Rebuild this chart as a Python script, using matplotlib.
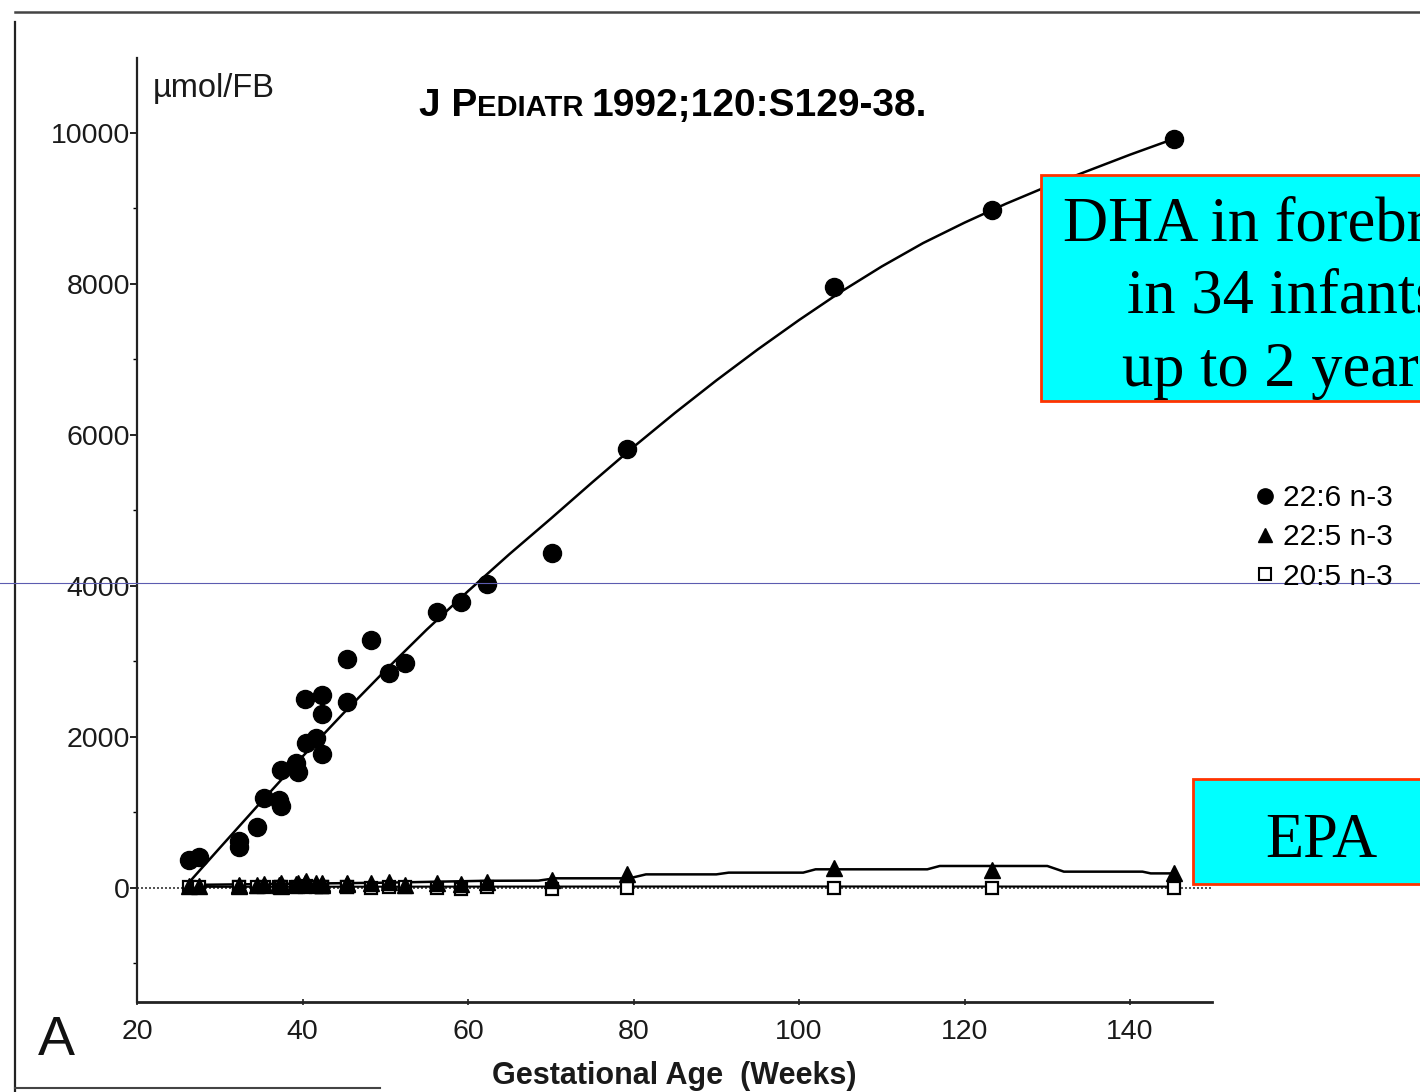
import matplotlib
matplotlib.use("Agg")
import matplotlib.pyplot as plt
from matplotlib.lines import Line2D
from matplotlib.patches import Rectangle
from matplotlib.offsetbox import TextArea, HPacker, AnchoredOffsetbox

plt.rcParams["font.family"] = ["Liberation Sans", "DejaVu Sans"]

# gestational age (weeks) of each infant
age = [26.3, 27.5, 32.3, 32.3, 34.5, 35.4, 37.2, 37.4, 37.4, 39.2, 39.4, 40.4,
       41.6, 42.3, 40.3, 42.4, 42.4, 45.4, 45.4, 48.3, 50.4, 52.4, 56.3, 59.2,
       62.3, 70.2, 79.2, 104.2, 123.3, 145.3]
# 22:6 n-3 (DHA), umol per forebrain
dha = [370, 410, 620, 540, 810, 1190, 1170, 1560, 1080, 1650, 1540, 1920,
       1980, 1780, 2500, 2560, 2310, 2460, 3030, 3290, 2850, 2980, 3660, 3790,
       4030, 4430, 5810, 7960, 8980, 9920]
# 22:5 n-3
dpa = [30, 30, 40, 30, 40, 50, 40, 60, 30, 50, 60, 90,
       70, 50, 60, 60, 40, 70, 50, 60, 80, 40, 70, 50,
       80, 100, 190, 270, 240, 200]
# 20:5 n-3 (EPA)
epa = [10, 10, 15, 10, 10, 15, 10, 15, 10, 15, 10, 20,
       15, 10, 15, 10, 15, 10, 15, 5, 10, 15, 5, -20,
       10, -15, 0, 5, 0, 5]

# fitted curve for 22:6 n-3
dha_fit_x = [26.5, 30, 35, 40, 45, 50, 55, 60, 65, 70, 75, 80, 85, 90, 95, 100,
             105, 110, 115, 120, 125, 130, 135, 140, 145.3]
dha_fit_y = [100, 530, 1140, 1740, 2320, 2880, 3420, 3930, 4420, 4890, 5370, 5840,
             6290, 6720, 7130, 7520, 7890, 8230, 8540, 8810, 9060, 9290, 9500, 9710, 9920]
dpa_fit_x = [26.3, 50, 62, 68.5, 70.5, 79.5, 81.5, 90, 91.5, 100.5, 102, 115.5,
             117, 130, 132, 141.5, 142.5, 145.3]
dpa_fit_y = [40, 70, 95, 97, 128, 128, 180, 180, 203, 203, 247, 247,
             291, 291, 216, 216, 193, 193]
# fitted line for 20:5 n-3
epa_fit_x = [26.3, 60, 100, 145.3]
epa_fit_y = [15, 18, 20, 18]

x_ticks = [20, 40, 60, 80, 100, 120, 140]
y_ticks = [0, 2000, 4000, 6000, 8000, 10000]
legend_labels = ["22:6 n-3", "22:5 n-3", "20:5 n-3"]

W, H = 1420, 1092
fig = plt.figure(figsize=(W / 100, H / 100), dpi=100)
fig.patch.set_facecolor("white")

ax = fig.add_axes([137 / W, 1 - 1002 / H, (1212 - 137) / W, (1002 - 58) / H])
ax.set_xlim(20.3, 149.9)
ax.set_ylim(-1510, 10990)
for s in ["top", "right"]:
    ax.spines[s].set_visible(False)
ax.spines["left"].set_linewidth(1.6)
ax.spines["bottom"].set_linewidth(2.0)
ax.spines["left"].set_color("#222222")
ax.spines["bottom"].set_color("#222222")

# baseline dotted line at zero
ax.axhline(0, color="#333333", lw=1.2, ls=(0, (1.2, 1.2)), zorder=1)

ax.plot(epa_fit_x, epa_fit_y, color="black", lw=1.5, zorder=2)
ax.plot(dpa_fit_x, dpa_fit_y, color="black", lw=1.8, zorder=2)
ax.plot(dha_fit_x, dha_fit_y, color="black", lw=1.8, zorder=2)

ax.plot(age, epa, ls="none", marker="s", ms=9, mfc="white", mec="black", mew=1.6, zorder=3)
ax.plot(age, dpa, ls="none", marker="^", ms=11, color="black", zorder=4)
ax.plot(age, dha, ls="none", marker="o", ms=13, color="black", zorder=5)

ax.set_xticks(x_ticks)
ax.set_yticks(y_ticks)
ax.set_yticks(range(-1000, 11000, 2000), minor=True)
ax.tick_params(axis="both", labelsize=20.5, labelcolor="#1a1a1a", color="#222222")
ax.tick_params(axis="y", which="major", length=5, width=1.4, pad=0)
ax.tick_params(axis="y", which="minor", length=3, width=1.0)
ax.tick_params(axis="x", which="major", length=4, width=1.2, direction="inout", pad=10)

ax.set_xlabel("Gestational Age  (Weeks)", fontsize=22, fontweight="bold",
              color="#1a1a1a", labelpad=12)

# legend to the right of the plot
handles = [
    Line2D([], [], ls="none", marker="o", ms=11, color="black"),
    Line2D([], [], ls="none", marker="^", ms=10, color="black"),
    Line2D([], [], ls="none", marker="s", ms=9, mfc="white", mec="black", mew=1.5),
]
fig.legend(handles, legend_labels, loc="upper left",
           bbox_to_anchor=(1256 / W, 1 - 484 / H), frameon=False,
           fontsize=21.5, handlelength=0.6, handletextpad=0.3,
           labelspacing=0.38, borderpad=0, borderaxespad=0)

fig.text(153 / W, 1 - 97 / H, "µmol/FB", fontsize=23.5, color="#1a1a1a", va="baseline")
fig.text(38 / W, 1 - 1055 / H, "A", fontsize=40, color="#111111", va="baseline")

# journal reference in small caps
parts = [
    TextArea("J P", textprops=dict(fontsize=28, fontweight="bold")),
    TextArea("EDIATR ", textprops=dict(fontsize=21, fontweight="bold")),
    TextArea("1992;120:S129-38.", textprops=dict(fontsize=28, fontweight="bold")),
]
ref = HPacker(children=parts, align="baseline", pad=0, sep=0)
fig.add_artist(AnchoredOffsetbox(loc="lower left", child=ref, pad=0, borderpad=0,
                                 frameon=False, bbox_to_anchor=(419 / W, 1 - 124 / H),
                                 bbox_transform=fig.transFigure))

# scan frame and slide guide line
fig.add_artist(Line2D([15 / W, 15 / W], [0, 1 - 22 / H], color="#222222", lw=1.6))
fig.add_artist(Line2D([15 / W, 1], [1 - 12 / H, 1 - 12 / H], color="#444444", lw=1.8))
fig.add_artist(Line2D([15 / W, 380 / W], [1 - 1088 / H, 1 - 1088 / H], color="#444444", lw=1.5))
fig.add_artist(Line2D([0, 1], [1 - 583 / H, 1 - 583 / H], color="#5c5cb0", lw=0.8))

# annotation boxes
fig.add_artist(Rectangle((1041 / W, 1 - 401 / H), 500 / W, 226 / H,
                         transform=fig.transFigure, facecolor="#00ffff",
                         edgecolor="#ff3300", lw=2))
fig.text(1283 / W, 1 - 298 / H, "DHA in forebrain\nin 34 infants\nup to 2 years",
         family="Liberation Serif", fontsize=45, ha="center", va="center",
         linespacing=1.34)
fig.add_artist(Rectangle((1193 / W, 1 - 884 / H), 260 / W, 105 / H,
                         transform=fig.transFigure, facecolor="#00ffff",
                         edgecolor="#ff3300", lw=2))
fig.text(1321 / W, 1 - 842 / H, "EPA", family="Liberation Serif", fontsize=45,
         ha="center", va="center")

fig.savefig("out.png", dpi=100)
